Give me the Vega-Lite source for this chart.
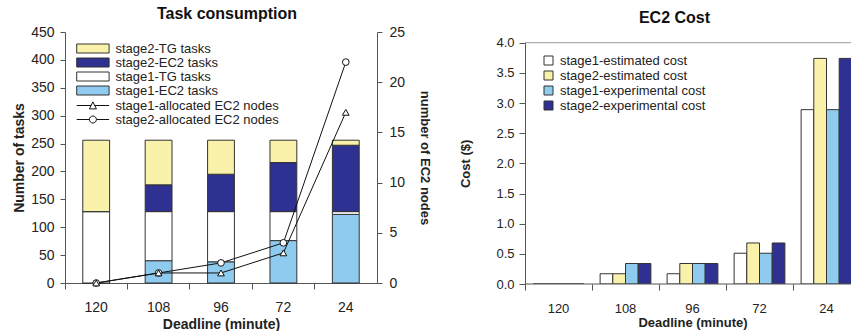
{
  "$schema": "https://vega.github.io/schema/vega-lite/v6.json",
  "padding": {"left": 12, "top": 6, "right": 0, "bottom": 0},
  "background": "white",
  "spacing": 28,
  "config": {
    "font": "Liberation Sans",
    "view": {"stroke": null},
    "axis": {"grid": false, "domainColor": "#555", "tickColor": "#555", "labelColor": "#222", "titleColor": "#222", "labelFont": "Liberation Sans", "titleFont": "Liberation Sans", "labelFontSize": 14, "titleFontSize": 14, "titleFontWeight": "bold"},
    "legend": {"labelFont": "Liberation Sans", "labelColor": "#222", "labelLimit": 300},
    "title": {"font": "Liberation Sans", "fontSize": 16, "fontWeight": "bold", "color": "#111"}
  },
  "datasets": {
    "tasks": [
      {"deadline": "120", "series": "stage1-EC2 tasks", "tasks": 0},
      {"deadline": "120", "series": "stage1-TG tasks", "tasks": 128},
      {"deadline": "120", "series": "stage2-EC2 tasks", "tasks": 0},
      {"deadline": "120", "series": "stage2-TG tasks", "tasks": 128},
      {"deadline": "108", "series": "stage1-EC2 tasks", "tasks": 40},
      {"deadline": "108", "series": "stage1-TG tasks", "tasks": 88},
      {"deadline": "108", "series": "stage2-EC2 tasks", "tasks": 48},
      {"deadline": "108", "series": "stage2-TG tasks", "tasks": 80},
      {"deadline": "96", "series": "stage1-EC2 tasks", "tasks": 38},
      {"deadline": "96", "series": "stage1-TG tasks", "tasks": 90},
      {"deadline": "96", "series": "stage2-EC2 tasks", "tasks": 67},
      {"deadline": "96", "series": "stage2-TG tasks", "tasks": 61},
      {"deadline": "72", "series": "stage1-EC2 tasks", "tasks": 76},
      {"deadline": "72", "series": "stage1-TG tasks", "tasks": 52},
      {"deadline": "72", "series": "stage2-EC2 tasks", "tasks": 88},
      {"deadline": "72", "series": "stage2-TG tasks", "tasks": 40},
      {"deadline": "24", "series": "stage1-EC2 tasks", "tasks": 123},
      {"deadline": "24", "series": "stage1-TG tasks", "tasks": 5},
      {"deadline": "24", "series": "stage2-EC2 tasks", "tasks": 119},
      {"deadline": "24", "series": "stage2-TG tasks", "tasks": 9}
    ],
    "nodes": [
      {"deadline": "120", "series": "stage1-allocated EC2 nodes", "nodes": 0},
      {"deadline": "108", "series": "stage1-allocated EC2 nodes", "nodes": 1},
      {"deadline": "96", "series": "stage1-allocated EC2 nodes", "nodes": 1},
      {"deadline": "72", "series": "stage1-allocated EC2 nodes", "nodes": 3},
      {"deadline": "24", "series": "stage1-allocated EC2 nodes", "nodes": 17},
      {"deadline": "120", "series": "stage2-allocated EC2 nodes", "nodes": 0},
      {"deadline": "108", "series": "stage2-allocated EC2 nodes", "nodes": 1},
      {"deadline": "96", "series": "stage2-allocated EC2 nodes", "nodes": 2},
      {"deadline": "72", "series": "stage2-allocated EC2 nodes", "nodes": 4},
      {"deadline": "24", "series": "stage2-allocated EC2 nodes", "nodes": 22}
    ],
    "cost": [
      {"deadline": "120", "series": "stage1-estimated cost", "cost": 0},
      {"deadline": "120", "series": "stage2-estimated cost", "cost": 0},
      {"deadline": "120", "series": "stage1-experimental cost", "cost": 0},
      {"deadline": "120", "series": "stage2-experimental cost", "cost": 0},
      {"deadline": "108", "series": "stage1-estimated cost", "cost": 0.17},
      {"deadline": "108", "series": "stage2-estimated cost", "cost": 0.17},
      {"deadline": "108", "series": "stage1-experimental cost", "cost": 0.34},
      {"deadline": "108", "series": "stage2-experimental cost", "cost": 0.34},
      {"deadline": "96", "series": "stage1-estimated cost", "cost": 0.17},
      {"deadline": "96", "series": "stage2-estimated cost", "cost": 0.34},
      {"deadline": "96", "series": "stage1-experimental cost", "cost": 0.34},
      {"deadline": "96", "series": "stage2-experimental cost", "cost": 0.34},
      {"deadline": "72", "series": "stage1-estimated cost", "cost": 0.51},
      {"deadline": "72", "series": "stage2-estimated cost", "cost": 0.68},
      {"deadline": "72", "series": "stage1-experimental cost", "cost": 0.51},
      {"deadline": "72", "series": "stage2-experimental cost", "cost": 0.68},
      {"deadline": "24", "series": "stage1-estimated cost", "cost": 2.89},
      {"deadline": "24", "series": "stage2-estimated cost", "cost": 3.74},
      {"deadline": "24", "series": "stage1-experimental cost", "cost": 2.89},
      {"deadline": "24", "series": "stage2-experimental cost", "cost": 3.74}
    ]
  },
  "hconcat": [
    {
      "width": 312,
      "height": 251,
      "title": {"text": "Task consumption", "dx": 6, "offset": 3},
      "layer": [
        {
          "data": {"name": "tasks"},
          "transform": [{"calculate": "indexof(['stage1-EC2 tasks','stage1-TG tasks','stage2-EC2 tasks','stage2-TG tasks'], datum.series)", "as": "ord"}],
          "mark": {"type": "bar", "width": {"band": 0.43}, "stroke": "#333", "strokeWidth": 1},
          "encoding": {
            "x": {"field": "deadline", "type": "ordinal", "sort": ["120", "108", "96", "72", "24"], "scale": {"paddingInner": 0, "paddingOuter": 0}, "axis": {"title": "Deadline (minute)", "labelAngle": 0, "bandPosition": 0, "tickSize": 6, "labelPadding": 11, "titlePadding": 3}},
            "y": {"field": "tasks", "type": "quantitative", "stack": "zero", "scale": {"domain": [0, 450], "nice": false}, "axis": {"title": "Number of tasks", "values": [0, 50, 100, 150, 200, 250, 300, 350, 400, 450], "labelOverlap": false, "tickSize": 5, "labelPadding": 6, "titlePadding": 4}},
            "color": {"field": "series", "type": "nominal", "scale": {"domain": ["stage2-TG tasks", "stage2-EC2 tasks", "stage1-TG tasks", "stage1-EC2 tasks"], "range": ["#FAF2AA", "#2E3191", "#FFFFFF", "#8FCBEE"]}, "legend": {"orient": "none", "legendX": 21.4, "legendY": 10, "title": null, "symbolType": "M-3.6,-1H3.6V1H-3.6Z", "symbolSize": 81, "symbolStrokeColor": "#333", "symbolStrokeWidth": 1, "symbolOpacity": 1, "labelFontSize": 13, "rowPadding": 0, "labelOffset": 16}},
            "order": {"field": "ord", "type": "quantitative"}
          }
        },
        {
          "data": {"name": "nodes"},
          "layer": [
            {
              "mark": {"type": "line", "color": "#111", "strokeWidth": 1},
              "encoding": {
                "x": {"field": "deadline", "type": "ordinal", "sort": ["120", "108", "96", "72", "24"]},
                "y": {"field": "nodes", "type": "quantitative", "scale": {"domain": [0, 25], "nice": false}, "axis": {"orient": "right", "title": "number of EC2 nodes", "values": [0, 5, 10, 15, 20, 25], "labelOverlap": false, "titleFontSize": 13, "tickSize": 5, "labelPadding": 7, "titlePadding": 13}},
                "detail": {"field": "series", "type": "nominal"}
              }
            },
            {
              "transform": [{"filter": "datum.series === 'stage2-allocated EC2 nodes'"}],
              "mark": {"type": "point", "shape": "circle", "filled": true, "fill": "white", "stroke": "#111", "strokeWidth": 1, "size": 45, "opacity": 1},
              "encoding": {
                "x": {"field": "deadline", "type": "ordinal", "sort": ["120", "108", "96", "72", "24"]},
                "y": {"field": "nodes", "type": "quantitative"}
              }
            },
            {
              "transform": [{"filter": "datum.series === 'stage1-allocated EC2 nodes'"}],
              "mark": {"type": "point", "shape": "triangle-up", "filled": true, "fill": "white", "stroke": "#111", "strokeWidth": 1, "size": 45, "opacity": 1},
              "encoding": {
                "x": {"field": "deadline", "type": "ordinal", "sort": ["120", "108", "96", "72", "24"]},
                "y": {"field": "nodes", "type": "quantitative"}
              }
            },
            {
              "transform": [{"filter": "false"}],
              "mark": {"type": "point", "filled": false, "color": "#111", "strokeWidth": 1, "opacity": 1},
              "encoding": {
                "x": {"field": "deadline", "type": "ordinal", "sort": ["120", "108", "96", "72", "24"]},
                "y": {"field": "nodes", "type": "quantitative"},
                "shape": {"field": "series", "type": "nominal", "scale": {"domain": ["stage1-allocated EC2 nodes", "stage2-allocated EC2 nodes"], "range": ["M-3.6,0H-0.4M0.4,0H3.6M0,-0.8L0.78,0.75L-0.78,0.75Z", "M-3.6,0H-0.78M0.78,0H3.6M0.78,0A0.78,0.78 0 1 1 -0.78,0A0.78,0.78 0 1 1 0.78,0Z"]}, "legend": {"orient": "none", "legendX": 21.4, "legendY": 67, "title": null, "symbolSize": 81, "symbolStrokeColor": "#111", "symbolStrokeWidth": 1, "symbolOpacity": 1, "labelFontSize": 13, "labelOffset": 16, "rowPadding": 0}}
              }
            }
          ]
        }
      ],
      "resolve": {"scale": {"y": "independent"}}
    },
    {
      "width": 327,
      "height": 252,
      "title": {"text": "EC2 Cost", "dx": -14, "offset": 6},
      "layer": [
        {
          "data": {"name": "cost"},
          "mark": {"type": "bar", "stroke": "#333", "strokeWidth": 1, "clip": true},
          "encoding": {
            "x": {"field": "deadline", "type": "ordinal", "sort": ["120", "108", "96", "72", "24"], "scale": {"range": [0, 335], "paddingInner": 0, "paddingOuter": 0}, "axis": {"title": "Deadline (minute)", "labelAngle": 0, "bandPosition": 0, "domain": false, "tickSize": 6, "labelPadding": 12, "titlePadding": 1, "labelFontSize": 13, "titleFontSize": 13}},
            "xOffset": {"field": "series", "type": "nominal", "sort": ["stage1-estimated cost", "stage2-estimated cost", "stage1-experimental cost", "stage2-experimental cost"], "scale": {"paddingInner": 0, "paddingOuter": 0.64}},
            "y": {"field": "cost", "type": "quantitative", "scale": {"domain": [0, 4], "range": [252, 10.7], "nice": false}, "axis": {"title": "Cost ($)", "values": [0, 0.5, 1, 1.5, 2, 2.5, 3, 3.5, 4], "tickCount": 9, "format": ".1f", "labelOverlap": false, "labelFontSize": 13, "titleFontSize": 13, "tickSize": 6, "labelPadding": 5, "titlePadding": 23}},
            "fill": {"field": "series", "type": "nominal", "scale": {"domain": ["stage1-estimated cost", "stage2-estimated cost", "stage1-experimental cost", "stage2-experimental cost"], "range": ["#FFFFFF", "#FAF2AA", "#8FCBEE", "#2E3191"]}, "legend": {"orient": "none", "legendX": 477, "legendY": 22, "title": null, "symbolType": "square", "symbolSize": 81, "symbolStrokeColor": "#333", "symbolStrokeWidth": 1, "symbolOpacity": 1, "labelFontSize": 13, "labelOffset": 5, "rowPadding": 1}}
          }
        },
        {
          "data": {"values": [{"v": 0}, {"v": 4}]},
          "mark": {"type": "rule", "strokeWidth": 1},
          "encoding": {
            "y": {"field": "v", "type": "quantitative", "axis": {"title": "Cost ($)", "values": [0, 0.5, 1, 1.5, 2, 2.5, 3, 3.5, 4], "tickCount": 9, "format": ".1f", "labelOverlap": false, "labelFontSize": 13, "titleFontSize": 13, "tickSize": 6, "labelPadding": 5, "titlePadding": 23}},
            "color": {"condition": {"test": "datum.v === 0", "value": "#555"}, "value": "#999"}
          }
        }
      ]
    }
  ]
}
